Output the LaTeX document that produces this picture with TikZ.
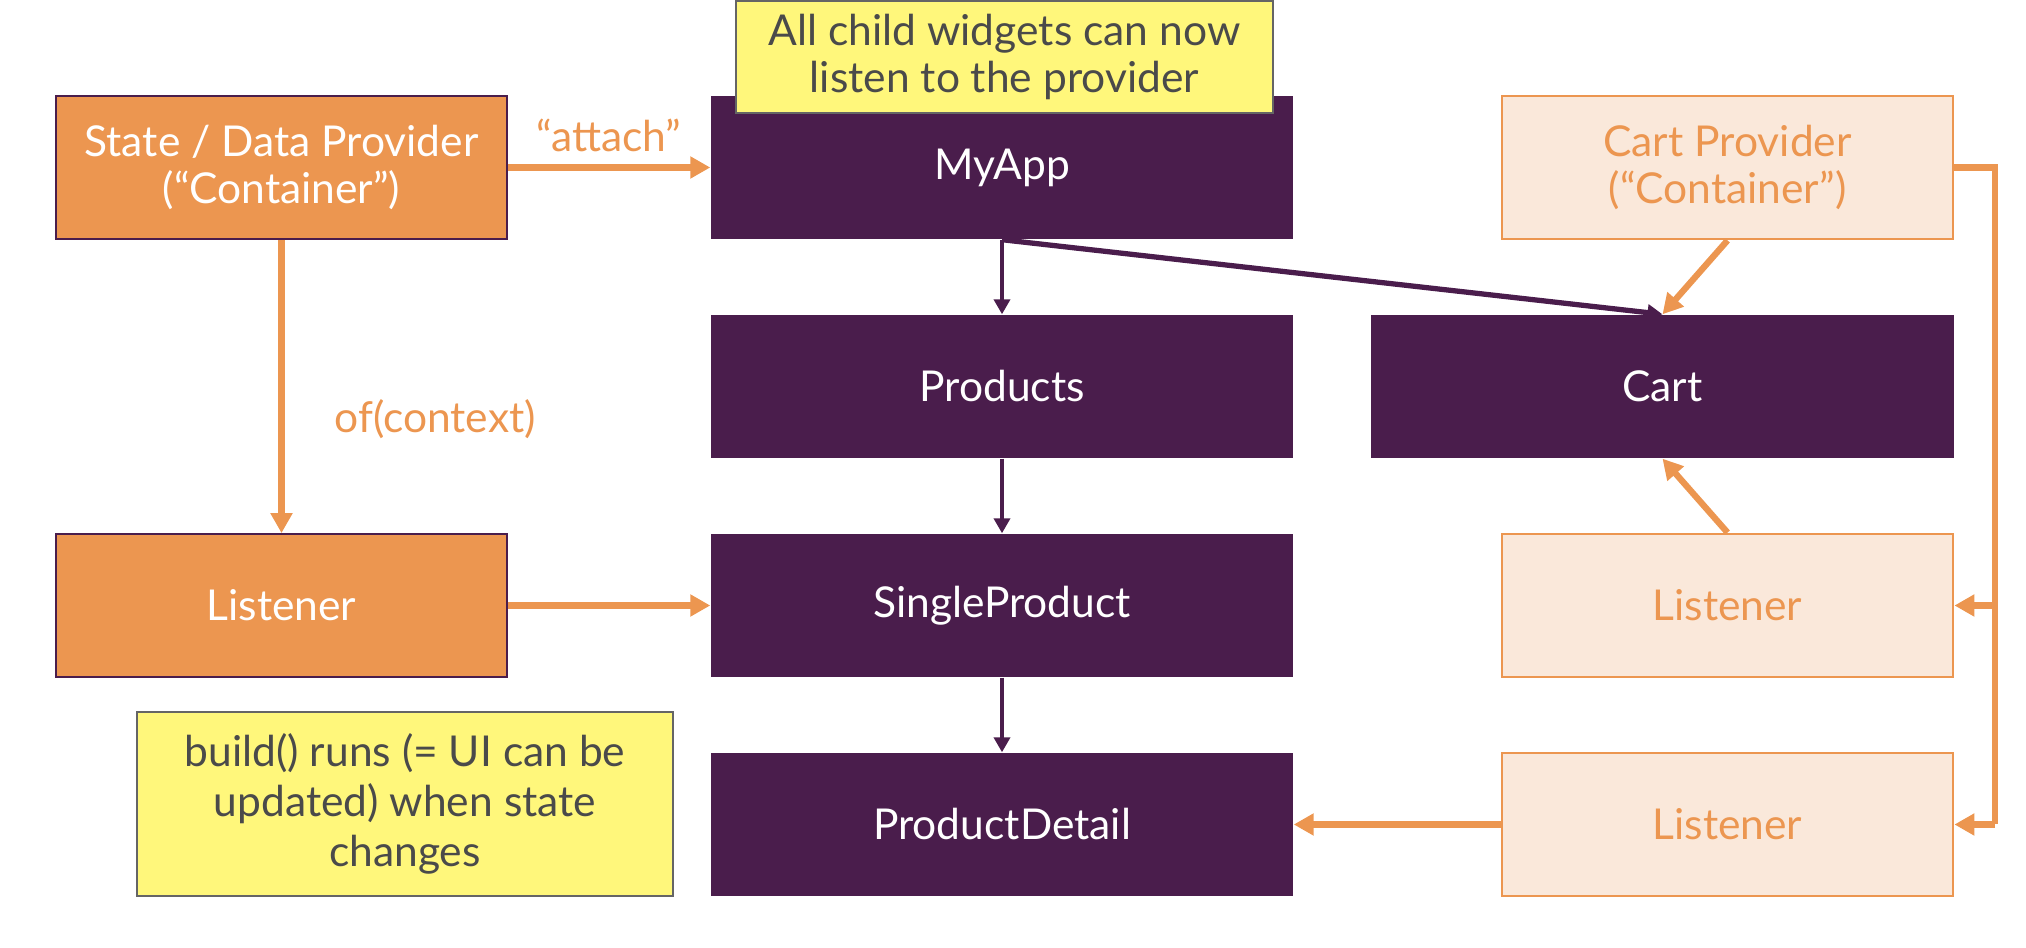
\documentclass[tikz,border=0pt]{standalone}
\usepackage{fontspec}
\setmainfont{Lato}
\usetikzlibrary{arrows.meta}
\definecolor{plum}{HTML}{4A1D4C}
\definecolor{carrot}{HTML}{EC9650}
\definecolor{peach}{HTML}{FAE8DA}
\definecolor{notefill}{HTML}{FFF77B}
\definecolor{inkgray}{HTML}{4A4A4A}
\begin{document}
\begin{tikzpicture}[
    every node/.style={font=\fontsize{12.1}{13.4}\selectfont,align=center,inner sep=0pt},
    widget/.style={fill=plum,text=white,minimum width=5.82cm,minimum height=1.43cm},
    provider/.style={fill=carrot,draw=plum,line width=0.5pt,text=white,minimum width=4.51cm,minimum height=1.43cm},
    cartbox/.style={fill=peach,draw=carrot,line width=0.8pt,text=carrot,minimum width=4.51cm,minimum height=1.43cm},
    note/.style={fill=notefill,draw=inkgray!85,line width=0.7pt,text=inkgray},
    purplearrow/.style={plum,line width=1.1pt,-{Triangle[length=0.15cm,width=0.16cm]}},
    orangearrow/.style={carrot,line width=1.8pt,-{Triangle[length=0.2cm,width=0.21cm]}}]
    \useasboundingbox (0,0) rectangle (20.26,-9.48);
    %% widget tree
    \node[widget] (myapp) at (10.02,-1.675) {MyApp};
    \node[widget] (products) at (10.02,-3.865) {Products};
    \node[widget] (single) at (10.02,-6.055) {SingleProduct};
    \node[widget] (detail) at (10.02,-8.245) {ProductDetail};
    \node[widget,minimum width=5.83cm] (cart) at (16.625,-3.865) {Cart};
    %% providers and listeners
    \node[provider] (state) at (2.815,-1.675) {State / Data Provider\\(“Container”)};
    \node[provider] (listen) at (2.815,-6.055) {Listener};
    \node[cartbox] (cartprov) at (17.275,-1.675) {Cart Provider\\(“Container”)};
    \node[cartbox] (hearA) at (17.275,-6.055) {Listener};
    \node[cartbox] (hearB) at (17.275,-8.245) {Listener};
    \coordinate (busend) at (19.95,-8.245);
    %% notes
    \node[note,minimum width=5.37cm,minimum height=1.12cm] (topnote) at (10.045,-0.57) {All child widgets can now\\listen to the provider};
    \node[note,minimum width=5.36cm,minimum height=1.84cm,font=\fontsize{12.1}{14.2}\selectfont] (buildnote) at (4.05,-8.04) {build() runs (= UI can be\\updated) when state\\changes};
    %% purple connectors
    \draw[purplearrow] (myapp) -- (products);
    \draw[purplearrow] (products) -- (single);
    \draw[purplearrow] (single) -- (detail);
    \draw[purplearrow,line width=1.5pt] (myapp.south) -- (cart.north);
    %% orange connectors
    \draw[orangearrow] (state) -- node[above=0.12cm,text=carrot] {“attach”} (myapp);
    \draw[orangearrow] (state) -- node[right=0.5cm,pos=0.61,text=carrot] {of(context)} (listen);
    \draw[orangearrow] (listen) -- (single);
    \draw[orangearrow] (cartprov.south) -- (cart.north);
    \draw[orangearrow] (hearA.north) -- (cart.south);
    \draw[orangearrow] (hearB) -- (detail);
    \draw[carrot,line width=1.8pt] (cartprov.east) -| (busend);
    \draw[orangearrow] (busend |- hearA) -- (hearA.east);
    \draw[orangearrow] (busend) -- (hearB.east);
\end{tikzpicture}
\end{document}
